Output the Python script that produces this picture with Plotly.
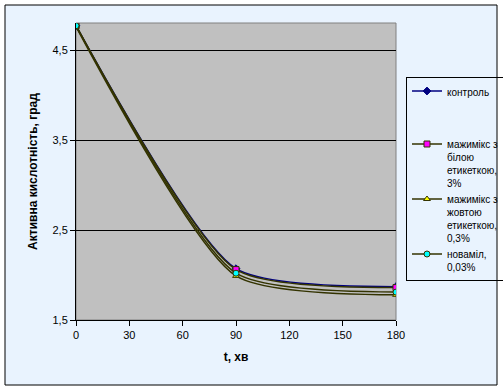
import plotly.graph_objects as go

t = [0, 90, 180]
names = ["контроль", "мажимікс з<br>білою<br>етикеткою,<br>3%",
         "мажимікс з<br>жовтою<br>етикеткою,<br>0,3%", "новаміл,<br>0,03%"]
control = [4.77, 2.07, 1.87]
white_label = [4.77, 2.06, 1.86]
yellow_label = [4.76, 1.99, 1.78]
novamil = [4.77, 2.02, 1.81]

series = [control, white_label, yellow_label, novamil]
line_colors = ["#000080", "#333300", "#333300", "#333300"]
marker_colors = ["#000080", "#FF00FF", "#FFFF00", "#00FFFF"]
symbols = ["diamond", "square", "triangle-up", "circle"]
groups = ["a", "b", "b", "b"]

fig = go.Figure()
for name, y, lc, mc, sym, g in zip(names, series, line_colors, marker_colors, symbols, groups):
    fig.add_trace(go.Scatter(
        x=t, y=y, name=name, mode="lines+markers", legendgroup=g,
        line=dict(color=lc, width=1.5, shape="spline", smoothing=0.62),
        marker=dict(symbol=sym, size=6, color=mc, line=dict(color=lc, width=1)),
    ))

L, R, T, B = 76, 107, 23, 70
W, H = 503, 390
pw, ph = W - L - R, H - T - B

def px(x):
    return (x - L) / pw

def py(y):
    return (H - B - y) / ph

fig.update_layout(
    width=W, height=H,
    margin=dict(l=L, r=R, t=T, b=B, autoexpand=False),
    paper_bgcolor="white", plot_bgcolor="rgba(0,0,0,0)",
    separators=", ",
    font=dict(family="Liberation Sans, Arial", size=11, color="black"),
    showlegend=True,
    legend=dict(
        x=px(406), y=py(77), xanchor="left", yanchor="top",
        bgcolor="rgba(0,0,0,0)", bordercolor="black", borderwidth=1,
        font=dict(size=10, color="black"), traceorder="grouped",
        tracegroupgap=34, valign="top",
    ),
    shapes=[
        dict(type="rect", xref="paper", yref="paper",
             x0=px(5), x1=px(497), y0=py(385), y1=py(5),
             fillcolor="#E9F3FE", line=dict(color="black", width=1), layer="below"),
        dict(type="rect", xref="paper", yref="paper",
             x0=0, x1=1, y0=0, y1=1,
             fillcolor="#C0C0C0", line=dict(color="#808080", width=1), layer="below"),
    ],
    xaxis=dict(
        range=[0, 180], tick0=0, dtick=30, ticks="outside", ticklen=5,
        tickcolor="black", showline=True, linecolor="black", linewidth=1,
        showgrid=False, zeroline=False, tickfont=dict(size=11),
        title=dict(text="<b>t, хв</b>", font=dict(size=12), standoff=12),
    ),
    yaxis=dict(
        range=[1.5, 4.8], tick0=1.5, dtick=1, tickformat=".1f",
        ticks="outside", ticklen=5, tickcolor="black",
        showline=True, linecolor="black", linewidth=1,
        showgrid=True, gridcolor="black", gridwidth=1, zeroline=False,
        tickfont=dict(size=11),
        title=dict(text="<b>Активна кислотність, град</b>", font=dict(size=12), standoff=12),
    ),
)

fig.write_html("out.html")
